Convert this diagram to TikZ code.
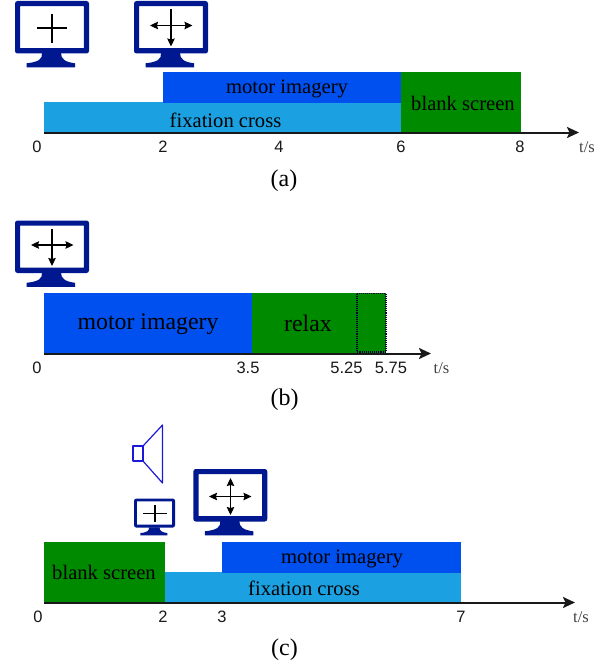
\documentclass[tikz,border=0pt]{standalone}
\usepackage{fontspec}
\setmainfont{Liberation Serif}
\setsansfont{Liberation Sans}
\usetikzlibrary{arrows.meta}
\definecolor{motorc}{HTML}{0050EF}
\definecolor{fixc}{HTML}{1BA1E2}
\definecolor{blankc}{HTML}{008A00}
\definecolor{monc}{HTML}{00188F}
\definecolor{spkc}{HTML}{1A1AD8}
\newcommand{\fs}[1]{\fontsize{#1}{#1}\selectfont}
\tikzset{
  x=1pt,y=-1pt,
  bar/.style={inner sep=0pt,outer sep=0pt,font=\fs{20.6},text=black},
  barb/.style={bar,font=\fs{23.8}},
  tick/.style={font=\sffamily\fs{16.5},text=black!90,inner sep=0pt},
  unit/.style={font=\fs{16.5},text=black!75,inner sep=0pt},
  caption/.style={font=\fs{24},inner sep=0pt},
  axis/.style={draw=black!90,line width=2pt,-{Stealth[length=12pt,width=11pt,inset=2.5pt]}},
  crossline/.style={draw=black,line width=1.2pt},
  crossarrow/.style={draw=black,line width=1.2pt,{Stealth[length=8pt,width=7.5pt,inset=1pt]}-{Stealth[length=8pt,width=7.5pt,inset=1pt]}},
  downarrow/.style={draw=black,line width=1.2pt,-{Stealth[length=8pt,width=7.5pt,inset=1pt]}},
  pics/monitorbody/.style={code={
    \fill[monc,even odd rule,rounded corners=2.5pt] (0,0) rectangle (74,52.5)
      [sharp corners] (5.2,5.2) rectangle (68.8,47.2);
    \fill[monc] (27,52) .. controls (27.5,58) and (24,61) .. (11.5,62.3) -- (11.5,66.3) -- (60,66.3) -- (60,62.3)
      .. controls (50,61) and (46,58) .. (46,52) -- cycle;
  }},
}
\begin{document}
\begin{tikzpicture}
\useasboundingbox (0,0) rectangle (611,669);

% ---- panel (a)
\pic at (15,1) {monitorbody};
\pic at (134,1) {monitorbody};
\coordinate (a1l) at (37,28); \coordinate (a1r) at (67,28);
\coordinate (a1t) at (52,14); \coordinate (a1b) at (52,43);
\draw[crossline] (a1l) -- (a1r);
\draw[crossline] (a1t) -- (a1b);
\coordinate (a2l) at (150,25.5); \coordinate (a2r) at (192.5,25.5);
\coordinate (a2t) at (171,9); \coordinate (a2b) at (171,46.5);
\draw[crossarrow] (a2l) -- (a2r);
\draw[downarrow] (a2t) -- (a2b);

\fill[fixc] (44,101.5) rectangle (401,132);
\fill[motorc] (163,72) rectangle (401,102.5);
\fill[blankc] (401,72) rectangle (521,132);
\node[bar] (amotor) at (287,89) {motor imagery};
\node[bar] (afix) at (225.5,120) {fixation cross};
\node[bar] (ablank) at (463,103) {blank screen};
\coordinate (a0) at (44,132.5); \coordinate (aend) at (579,132.5);
\draw[axis] (a0) -- (aend);
\node[tick] (at0) at (37,146.5) {0};
\node[tick] (at2) at (163,146.5) {2};
\node[tick] (at4) at (279,146.5) {4};
\node[tick] (at6) at (401,146.5) {6};
\node[tick] (at8) at (520,146.5) {8};
\node[unit] (aunit) at (587,147.5) {t/s};
\node[caption] (capa) at (284,181) {(a)};

% ---- panel (b)
\pic at (15,220.5) {monitorbody};
\coordinate (b1l) at (31,245); \coordinate (b1r) at (73.5,245);
\coordinate (b1t) at (52,229); \coordinate (b1b) at (52,266);
\draw[crossarrow] (b1l) -- (b1r);
\draw[downarrow] (b1t) -- (b1b);

\fill[motorc] (44,293) rectangle (251.5,353);
\fill[blankc] (251.5,293) rectangle (386,353);
\draw[black!75!blue,densely dotted,line width=1.1pt] (357,293.5) rectangle (386,352);
\node[barb] (bmotor) at (148,324) {motor imagery};
\node[barb] (brelax) at (308,323) {relax};
\coordinate (b0) at (44,353.5); \coordinate (bend) at (431,353.5);
\draw[axis] (b0) -- (bend);
\node[tick] (bt0) at (37,367.5) {0};
\node[tick] (bt35) at (248,367.5) {3.5};
\node[tick] (bt525) at (346.5,367.5) {5.25};
\node[tick] (bt575) at (391,367.5) {5.75};
\node[unit] (bunit) at (441.5,368.5) {t/s};
\node[caption] (capb) at (284.5,400) {(b)};

% ---- panel (c)
\draw[spkc,line width=1.2pt,line join=round] (133,446) rectangle (143,461);
\draw[spkc,line width=1.2pt,line join=round] (143,446) -- (162.5,425) -- (162.5,483) -- (143,461);
\pic[scale=.555] at (134,498.5) {monitorbody};
\coordinate (c1l) at (143,513.5); \coordinate (c1r) at (167,513.5);
\coordinate (c1t) at (155,505); \coordinate (c1b) at (155,522);
\draw[crossline] (c1l) -- (c1r);
\draw[crossline] (c1t) -- (c1b);
\pic at (193.3,469) {monitorbody};
\coordinate (c2l) at (209,496.5); \coordinate (c2r) at (251.5,496.5);
\coordinate (c2t) at (230.5,478); \coordinate (c2b) at (230.5,515);
\draw[crossarrow] (c2l) -- (c2r);
\draw[crossarrow] (c2t) -- (c2b);

\fill[fixc] (164,572) rectangle (461,602);
\fill[motorc] (222,542) rectangle (461,572.5);
\fill[blankc] (44,542) rectangle (164.5,602);
\node[bar] (cmotor) at (342,559) {motor imagery};
\node[bar] (cfix) at (304,588) {fixation cross};
\node[bar] (cblank) at (104,572.5) {blank screen};
\coordinate (c0) at (44,602.5); \coordinate (cend) at (575,602.5);
\draw[axis] (c0) -- (cend);
\node[tick] (ct0) at (38,616.5) {0};
\node[tick] (ct2) at (163,616.5) {2};
\node[tick] (ct3) at (222,616.5) {3};
\node[tick] (ct7) at (461,616.5) {7};
\node[unit] (cunit) at (581,617) {t/s};
\node[caption] (capc) at (284.5,650) {(c)};
\end{tikzpicture}
\end{document}
